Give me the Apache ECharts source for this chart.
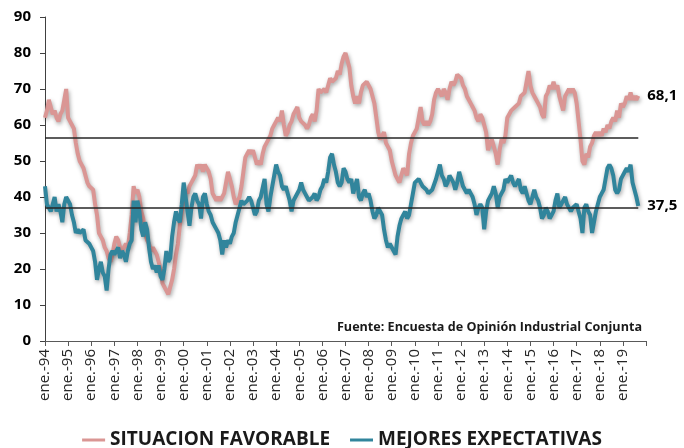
<!DOCTYPE html>
<html>
<head>
<meta charset="utf-8">
<script src="https://cdn.jsdelivr.net/npm/echarts@6/dist/echarts.min.js"></script>
<style>
html,body{margin:0;padding:0;background:#fff;}
#chart{width:684px;height:448px;}
</style>
</head>
<body>
<div id="chart"></div>
<script>
// ---- data ----
const monthNames = ['ene.','feb.','mar.','abr.','may.','jun.','jul.','ago.','sep.','oct.','nov.','dic.'];
const firstYear = 1994;
const lastAxisYear = 2020; // axis runs to ene.-20
const seriesNames = ['SITUACION FAVORABLE', 'MEJORES EXPECTATIVAS'];
const endLabels = ['68,1', '37,5'];
const refLines = [56.4, 37.0];
const sourceText = 'Fuente: Encuesta de Opinión Industrial Conjunta';

const situacionFavorable = [
  62, 64, 67, 65, 63, 64, 62, 61, 63, 64, 67, 70,
  62, 61, 60, 59, 55, 52, 50, 49, 48, 46, 44, 43,
  43, 42, 38, 35, 30, 29, 28, 26, 25, 23, 22, 24,
  27, 29, 28, 26, 25, 25, 27, 26, 30, 35, 43, 41,
  42, 40, 36, 34, 30, 28, 27, 25, 26, 25, 24, 22,
  20, 16, 15, 14, 13, 15, 17, 20, 24, 27, 32, 36,
  40, 42, 41, 43, 44, 45, 46, 49, 48, 49, 47, 49,
  48, 47, 45, 41, 40, 39, 40, 39, 40, 41, 44, 47,
  45, 43, 40, 38, 38, 40, 43, 47, 51, 52, 53, 52,
  53, 51, 49, 50, 49, 52, 54, 54, 56, 57, 59, 60,
  61, 62, 61, 64, 60, 57, 58, 60, 61, 63, 64, 65,
  62, 61, 61, 60, 59, 60, 62, 63, 61, 64, 70, 69,
  69, 70, 69, 71, 73, 72, 72, 73, 75, 74, 77, 79,
  80, 78, 76, 71, 68, 66, 68, 66, 69, 71, 71, 72,
  72, 70, 68, 66, 62, 58, 56, 57, 58, 55, 54, 53,
  50, 48, 46, 45, 44, 44, 48, 47, 46, 52, 55, 57,
  58, 59, 62, 65, 61, 60, 61, 60, 61, 63, 67, 69,
  70, 69, 68, 70, 69, 67, 70, 72, 71, 72, 74, 74,
  73, 71, 70, 68, 67, 66, 65, 64, 62, 61, 63, 62,
  60, 58, 53, 55, 56, 54, 52, 49, 53, 56, 55, 57,
  62, 63, 64, 64, 65, 65, 66, 68, 68, 69, 72, 75,
  71, 69, 68, 67, 66, 65, 63, 62, 68, 69, 71, 70,
  72, 70, 71, 68, 66, 64, 68, 69, 70, 69, 70, 69,
  66, 61, 56, 50, 49, 52, 51, 54, 55, 57, 58, 57,
  58, 57, 59, 58, 60, 59, 61, 62, 61, 64, 62, 66,
  65, 66, 68, 67, 69, 67, 68, 67, 68.1
];

const mejoresExpectativas = [
  43, 38, 37, 36, 38, 40, 36, 38, 36, 33, 38, 40,
  40, 38, 35, 33, 30, 31, 30, 30, 31, 28, 28, 27,
  26, 25, 22, 17, 20, 22, 19, 18, 14, 20, 24, 25,
  24, 25, 26, 23, 25, 24, 22, 25, 27, 28, 39, 33,
  39, 36, 31, 29, 33, 31, 26, 22, 20, 21, 19, 21,
  18, 17, 20, 25, 22, 23, 29, 33, 36, 34, 33, 38,
  44, 40, 36, 32, 37, 40, 41, 39, 38, 34, 40, 41,
  38, 36, 35, 33, 33, 31, 30, 28, 24, 28, 26, 28,
  27, 29, 30, 33, 35, 37, 39, 38, 38, 39, 40, 39,
  37, 35, 36, 39, 40, 40, 45, 38, 36, 40, 43, 46,
  49, 47, 46, 43, 42, 43, 41, 39, 36, 39, 40, 40,
  42, 44, 42, 41, 40, 39, 39, 40, 41, 39, 40, 42,
  43, 45, 44, 47, 51, 52, 49, 47, 44, 43, 44, 48,
  47, 45, 44, 45, 41, 43, 45, 40, 39, 41, 42, 40,
  41, 39, 36, 34, 35, 37, 36, 35, 31, 28, 26, 27,
  27, 25, 24, 29, 32, 34, 35, 36, 34, 35, 38, 41,
  44, 44, 45, 44, 43, 43, 42, 41, 41, 42, 42, 45,
  47, 49, 46, 45, 43, 44, 46, 45, 44, 42, 44, 47,
  45, 43, 42, 41, 42, 41, 40, 38, 35, 37, 38, 37,
  31, 36, 39, 40, 41, 43, 41, 37, 40, 41, 42, 45,
  44, 45, 46, 44, 43, 44, 45, 42, 41, 43, 41, 39,
  38, 40, 42, 40, 39, 37, 34, 35, 37, 36, 34, 35,
  36, 39, 41, 37, 38, 39, 40, 38, 37, 36, 37, 37,
  38, 36, 34, 30, 37, 38, 36, 35, 30, 30, 36, 38,
  40, 41, 42, 45, 48, 49, 48, 46, 42, 41, 42, 45,
  46, 47, 48, 47, 49, 44, 42, 40, 37.5
];

// month categories ene.-94 ... ene.-20
const categories = [];
for (let y = firstYear; y <= lastAxisYear; y++) {
  for (let m = 0; m < 12; m++) {
    if (y === lastAxisYear && m > 0) break;
    categories.push(monthNames[m] + '-' + String(y % 100).padStart(2, '0'));
  }
}
const lastIdx = situacionFavorable.length - 1;

// ---- chart ----
const colors = ['#DA9694', '#31859C'];
const FONT = '"Open Sans", sans-serif';
const chart = echarts.init(document.getElementById('chart'), null, {renderer: 'canvas'});

const lineShadow = {shadowColor: 'rgba(0,0,0,0.35)', shadowBlur: 4, shadowOffsetX: 1, shadowOffsetY: 2};

chart.setOption({
  animation: false,
  backgroundColor: '#fff',
  grid: {left: 45, right: 38, top: 17, bottom: 107, containLabel: false},
  legend: {
    data: seriesNames,
    top: 427,
    left: 'center',
    padding: 0,
    icon: 'rect',
    itemWidth: 23,
    itemHeight: 3,
    itemGap: 20,
    textStyle: {fontFamily: FONT, fontSize: 19, fontWeight: 'bold', color: '#1a1a1a', lineHeight: 26}
  },
  xAxis: {
    type: 'category',
    data: categories,
    boundaryGap: false,
    axisLine: {lineStyle: {color: '#595959', width: 1}},
    axisTick: {
      show: true, length: 5, lineStyle: {color: '#595959'},
      interval: function (i) { return i % 12 === 0; }
    },
    axisLabel: {
      rotate: 90, margin: 8,
      fontFamily: FONT, fontSize: 15, color: '#262626',
      interval: function (i) { return i % 12 === 0 && i < categories.length - 1; }
    },
    splitLine: {show: false}
  },
  yAxis: {
    type: 'value',
    min: 0, max: 90, interval: 10,
    axisLine: {show: true, lineStyle: {color: '#404040', width: 1}},
    axisTick: {show: true, length: 5, lineStyle: {color: '#404040'}},
    axisLabel: {fontFamily: FONT, fontSize: 15, fontWeight: 'bold', color: '#000', margin: 14},
    splitLine: {show: false}
  },
  series: [
    {
      name: seriesNames[0], type: 'line', data: situacionFavorable,
      symbol: 'none', color: colors[0],
      lineStyle: Object.assign({width: 4, color: colors[0]}, lineShadow),
      endLabel: {show: true, formatter: endLabels[0], distance: 9,
        fontFamily: FONT, fontSize: 15, fontWeight: 'bold', color: '#000'},
      z: 2
    },
    {
      name: seriesNames[1], type: 'line', data: mejoresExpectativas,
      symbol: 'none', color: colors[1],
      lineStyle: Object.assign({width: 4, color: colors[1]}, lineShadow),
      endLabel: {show: true, formatter: endLabels[1], distance: 9,
        fontFamily: FONT, fontSize: 15, fontWeight: 'bold', color: '#000'},
      z: 3
    },
    {
      name: 'ref', type: 'line', data: [], z: 4,
      markLine: {
        silent: true, symbol: 'none', animation: false,
        label: {show: false},
        lineStyle: {color: '#262626', width: 1.5, type: 'solid'},
        data: refLines.map(v => [
          {coord: [categories[0], v]},
          {coord: [categories[lastIdx], v]}
        ])
      }
    }
  ],
  graphic: [{
    type: 'text', right: 42, top: 321,
    style: {text: sourceText, font: 'bold 12.6px ' + FONT, fill: '#1a1a1a'}
  }]
});
</script>
</body>
</html>
